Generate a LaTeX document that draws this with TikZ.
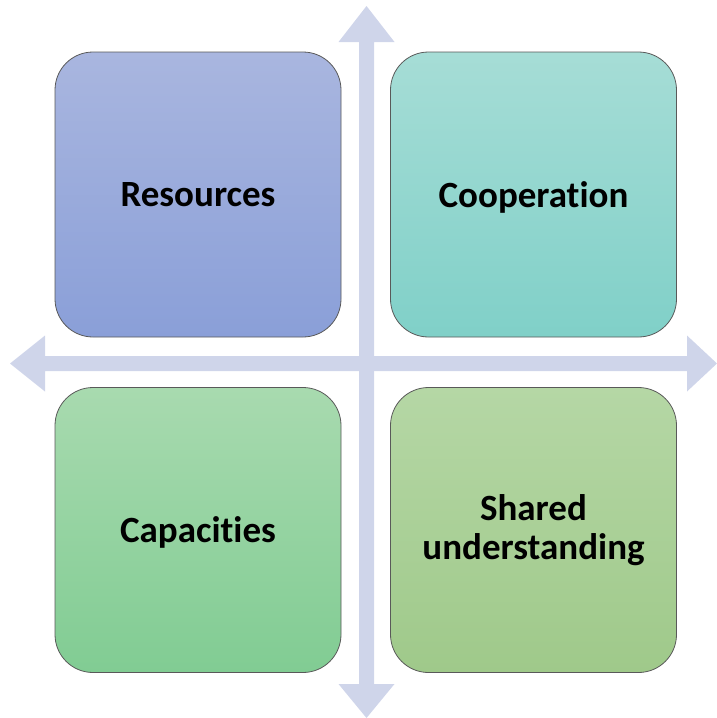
\documentclass[tikz,border=0pt]{standalone}
\usepackage{fontspec}
\setmainfont{Carlito}[Ligatures=NoCommon]

\definecolor{axiscol}{HTML}{CFD5EA}
\definecolor{restop}{HTML}{A9B6DF}
\definecolor{resbot}{HTML}{8A9FD8}
\definecolor{cooptop}{HTML}{A6DDD6}
\definecolor{coopbot}{HTML}{80D0C8}
\definecolor{captop}{HTML}{A8DAAF}
\definecolor{capbot}{HTML}{81CC93}
\definecolor{shartop}{HTML}{B5D7A5}
\definecolor{sharbot}{HTML}{9FC98A}

\begin{document}
\begin{tikzpicture}[x=1pt,y=-1pt,
  quad/.style={draw=black!65, line width=0.8pt, rounded corners=38pt,
    minimum width=286pt, minimum height=285pt, inner sep=0pt,
    align=center, font=\bfseries\fontsize{37}{39}\selectfont}]

\useasboundingbox (0,0) rectangle (717,718);

% Axes
\fill[axiscol] (366.5,6) -- (394.5,42) -- (374,42) -- (374,684) -- (394.5,684)
  -- (366.5,718) -- (338.5,684) -- (359,684) -- (359,42) -- (338.5,42) -- cycle;
\fill[axiscol] (10,363.5) -- (45,335.5) -- (45,356) -- (687,356) -- (687,335.5)
  -- (717,363.5) -- (687,391.5) -- (687,371) -- (45,371) -- (45,391.5) -- cycle;

% Quadrants
\node[quad, top color=restop, bottom color=resbot] (resources) at (198,194.5) {Resources};
\node[quad, top color=cooptop, bottom color=coopbot, text depth=0pt] (cooperation) at (533.5,194.5) {Cooperation};
\node[quad, top color=captop, bottom color=capbot, text depth=0pt] (capacities) at (198,530) {Capacities};
\node[quad, top color=shartop, bottom color=sharbot] (shared) at (533.5,530) {Shared\\understanding};

\end{tikzpicture}
\end{document}
